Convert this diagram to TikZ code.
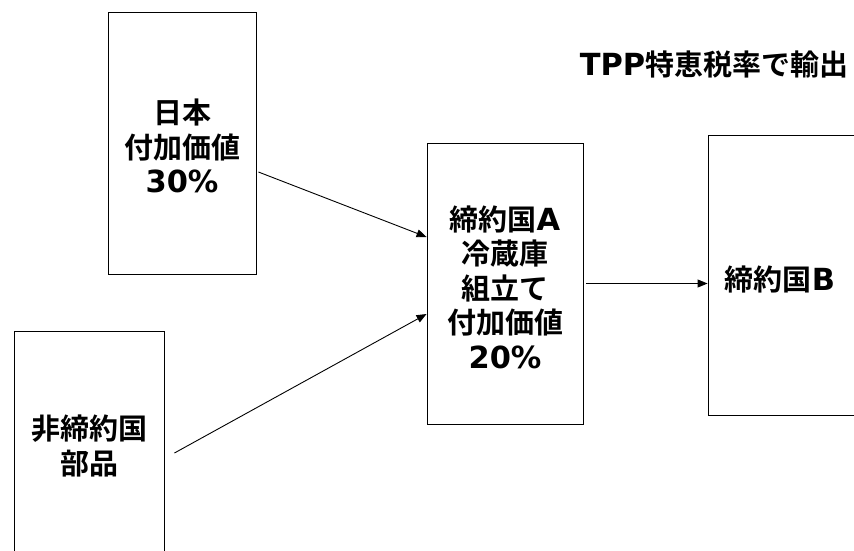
\documentclass[tikz,border=0pt]{standalone}
\usepackage{fontspec}
\setmainfont{Noto Sans CJK JP}[BoldFont=* Bold]
\newfontfamily\latfont{DejaVu Sans}[Scale=1.05]
\usetikzlibrary{arrows.meta}
\newcommand{\lt}[1]{{\latfont\bfseries #1}}
\begin{document}
\begin{tikzpicture}[x=1pt,y=-1pt,
  box/.style={draw, line width=0.9pt, inner sep=0pt},
  txt/.style={font=\fontsize{29}{34.5}\selectfont\bfseries, align=center, inner sep=0pt},
  arr/.style={line width=0.9pt, -{Triangle[length=10pt,width=8pt]}}]
\useasboundingbox (0,0) rectangle (854,550);
\clip (0,0) rectangle (854,550);
\fill[white] (0,0) rectangle (854,550);
% boxes
\node[box, minimum width=148pt, minimum height=262pt] (b1) at (182,143) {};
\node[box, minimum width=150pt, minimum height=260pt] (b2) at (89,461) {};
\node[box, minimum width=156pt, minimum height=281pt] (b3) at (505,283.5) {};
\node[box, minimum width=156pt, minimum height=280pt] (b4) at (786,275) {};
% texts
\node[txt] (t1) at (182,146) {日本\\付加価値\\\lt{30\%}};
\node[txt] (t2) at (89,446) {非締約国\\部品};
\node[txt] (t3) at (505,287) {締約国\lt{A}\\冷蔵庫\\組立て\\付加価値\\\lt{20\%}};
\node[txt] (t4) at (780,279) {締約国\lt{B}};
\node[txt] (t5) at (714,64) {\lt{TPP}特恵税率で輸出};
% arrows
\draw[arr] ([xshift=2pt,yshift=-29pt]b1.east) -- ([yshift=46.5pt]b3.west);
\draw[arr] ([xshift=10pt,yshift=8pt]b2.east) -- ([yshift=-30.5pt]b3.west);
\draw[arr] ([xshift=3pt]b3.east) -- ([yshift=-8.5pt]b4.west);
\end{tikzpicture}
\end{document}
